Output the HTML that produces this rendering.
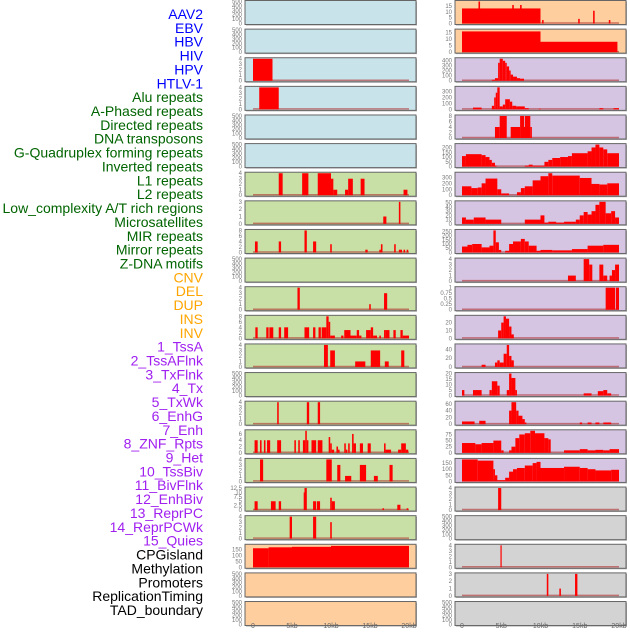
<!DOCTYPE html>
<html><head><meta charset="utf-8"><style>
body{margin:0;background:#fff;width:630px;height:630px;overflow:hidden;font-family:"Liberation Sans",sans-serif}
svg text{font-family:"Liberation Sans",sans-serif}
</style></head><body>
<svg id="chart" width="630" height="630" xmlns="http://www.w3.org/2000/svg"></svg>
<script>
const labels=["AAV2","EBV","HBV","HIV","HPV","HTLV-1","Alu repeats","A-Phased repeats","Directed repeats","DNA transposons","G-Quadruplex forming repeats","Inverted repeats","L1 repeats","L2 repeats","Low_complexity A/T rich regions","Microsatellites","MIR repeats","Mirror repeats","Z-DNA motifs","CNV","DEL","DUP","INS","INV","1_TssA","2_TssAFlnk","3_TxFlnk","4_Tx","5_TxWk","6_EnhG","7_Enh","8_ZNF_Rpts","9_Het","10_TssBiv","11_BivFlnk","12_EnhBiv","13_ReprPC","14_ReprPCWk","15_Quies","CPGisland","Methylation","Promoters","ReplicationTiming","TAD_boundary"];
const labelColors=["#0000ff","#0000ff","#0000ff","#0000ff","#0000ff","#0000ff","#006400","#006400","#006400","#006400","#006400","#006400","#006400","#006400","#006400","#006400","#006400","#006400","#006400","#ffa500","#ffa500","#ffa500","#ffa500","#ffa500","#a020f0","#a020f0","#a020f0","#a020f0","#a020f0","#a020f0","#a020f0","#a020f0","#a020f0","#a020f0","#a020f0","#a020f0","#a020f0","#a020f0","#a020f0","#000","#000","#000","#000","#000"];
const xTicks=[0,5,10,15,20];
const xTickLabels=["0","5kb","10kb","15kb","20kb"];
const E=[0,100,200,300,400,500];
// each panel: bg, ymax, yticks, segments [startKb,endKb,value]
const leftPanels=[
{bg:"#c8e3ea",ymax:500,ticks:E,segs:[]},
{bg:"#c8e3ea",ymax:500,ticks:E,segs:[]},
{bg:"#c8e3ea",ymax:4,ticks:[0,1,2,3,4],segs:[[0,2.5,4]]},
{bg:"#c8e3ea",ymax:4,ticks:[0,1,2,3,4],segs:[[0.8,3.3,4]]},
{bg:"#c8e3ea",ymax:500,ticks:E,segs:[]},
{bg:"#c8e3ea",ymax:500,ticks:E,segs:[]},
{bg:"#c8e0a5",ymax:4,ticks:[0,1,2,3,4],segs:[[3.3,3.8,4],[6.3,7.1,4],[8.3,10,4],[10,10.3,3],[10.3,10.8,1],[11.8,12.2,1],[12.2,12.8,3],[13.8,14.3,3],[19.3,19.8,1]]},
{bg:"#c8e0a5",ymax:3,ticks:[0,1,2,3],segs:[[16.7,17.1,1],[18.7,18.9,3]]},
{bg:"#c8e0a5",ymax:8,ticks:[0,2,4,6,8],segs:[[0.25,0.6,4],[3.3,3.6,4],[6.6,6.9,8],[7.7,8.1,4],[9.9,10.1,3],[14.4,14.7,1],[16.2,16.4,1],[16.4,16.6,3],[18.1,18.3,3],[18.7,19.1,1],[19.3,19.5,1],[19.7,19.9,1]]},
{bg:"#c8e0a5",ymax:500,ticks:E,segs:[]},
{bg:"#c8e0a5",ymax:4,ticks:[0,1,2,3,4],segs:[[5.7,6,4],[14.9,15.1,1],[16.8,17.2,3]]},
{bg:"#c8e0a5",ymax:8,ticks:[0,2,4,6,8],segs:[[0.3,0.6,4],[1.7,2,4],[2.1,2.6,4],[3.3,3.6,4],[4,4.5,4],[6.6,7.2,4],[7.7,8,4],[8.4,8.7,4],[8.8,9.4,4],[9.4,9.7,8],[9.7,9.9,6],[9.9,10.5,1],[11.3,11.6,1],[11.7,12.5,3],[12.5,13.3,1],[13.3,13.6,3],[13.6,13.9,1],[14.5,15.1,3],[15.1,15.4,4],[15.4,15.9,1],[16.2,16.4,1],[16.8,17,3],[17,17.5,3],[18,18.3,3],[18.9,19.2,3],[19.2,20,1]]},
{bg:"#c8e0a5",ymax:4,ticks:[0,1,2,3,4],segs:[[9.1,9.6,4],[9.9,10.5,3],[13.1,14.4,1],[15.1,16.3,3],[16.9,17.4,1],[19,19.4,3]]},
{bg:"#c8e0a5",ymax:500,ticks:E,segs:[]},
{bg:"#c8e0a5",ymax:4,ticks:[0,1,2,3,4],segs:[[3.1,3.3,4],[6.9,7.2,4],[8.3,8.6,4]]},
{bg:"#c8e0a5",ymax:7,ticks:[0,2,4,6],segs:[[0.2,0.6,4],[0.9,1.1,4],[1.4,1.6,4],[1.8,2.2,4],[3.1,3.6,4],[5.3,5.5,4],[5.8,6,4],[6.4,6.7,4],[6.7,6.9,7],[6.9,7.1,4],[7.5,8.1,4],[8.3,8.9,4],[9.7,9.9,5],[9.9,10.1,3],[10.1,10.4,1],[10.7,10.9,2],[10.9,11.1,1],[11.7,11.9,3],[11.9,12.1,1],[12.2,12.4,3],[12.7,12.9,6],[12.9,13.2,3],[13.7,14.1,3],[14.7,15.1,3],[16.8,17,3],[17,17.7,1],[18.6,19,1],[19,19.6,3],[19.6,19.9,1]]},
{bg:"#c8e0a5",ymax:4,ticks:[0,1,2,3,4],segs:[[0.9,1.3,4],[9.4,10.1,4],[10.8,11.2,3],[11.8,12.6,1],[13.7,14.5,3],[15.5,16,1],[17.5,17.9,3]]},
{bg:"#c8e0a5",ymax:12.5,ticks:[0,2.5,5,7.5,10,12.5],segs:[[0.2,0.6,5],[2.3,2.9,5],[3.3,3.6,5],[6.5,6.6,10],[6.6,6.9,12.5],[7.7,8.1,5],[8.2,8.6,5],[9.9,10.1,7],[10.1,10.5,5],[16.6,16.8,1],[18.5,18.9,3],[19.7,19.9,1]]},
{bg:"#c8e0a5",ymax:4,ticks:[0,1,2,3,4],segs:[[4.7,5,4],[7.7,8.1,4],[9.9,10.1,3]]},
{bg:"#ffce9e",ymax:185,ticks:[0,50,100,150],segs:[[0,2,160],[2,5,168],[5,10,172],[10,20,180]]},
{bg:"#ffce9e",ymax:500,ticks:E,segs:[]},
{bg:"#ffce9e",ymax:500,ticks:E,segs:[]}
];
const rightPanels=[
{bg:"#ffce9e",ymax:19,ticks:[0,5,10,15],segs:[[0,10,13],[2.1,2.3,19],[6.4,6.6,16],[7.4,7.6,16],[10.2,10.4,3],[14.8,15,4],[16.7,16.9,11],[18.7,18.9,3]]},
{bg:"#ffce9e",ymax:17,ticks:[0,5,10,15],segs:[[0,10,16],[10,19.8,8]]},
{bg:"#d5c5e2",ymax:430,ticks:[0,100,200,300,400],segs:[[3.8,4.2,20],[4.2,4.6,50],[4.6,4.8,350],[4.8,5.2,430],[5.2,5.5,390],[5.5,5.7,350],[5.7,6,280],[6,6.2,200],[6.2,6.5,120],[6.5,7,80],[7,7.4,50],[7.4,7.9,40]]},
{bg:"#d5c5e2",ymax:370,ticks:[0,100,200,300],segs:[[1.4,2.5,30],[3.8,4.1,60],[4.1,4.3,200],[4.3,4.5,280],[4.5,4.8,370],[4.8,5.2,50],[5.2,5.5,80],[5.5,6.1,170],[6.1,6.4,130],[6.4,6.9,60],[6.9,8,50],[8,8.5,20],[9.8,10,10],[17.5,18,20],[19.3,20,20]]},
{bg:"#d5c5e2",ymax:8,ticks:[0,2,4,6,8],segs:[[4.2,4.8,4],[4.8,5.7,8],[6.2,7.4,4],[7.4,7.9,8],[7.9,8,4],[8,8.7,8],[8.7,8.9,4]]},
{bg:"#d5c5e2",ymax:230,ticks:[0,50,100,150,200],segs:[[0,0.5,110],[0.5,2.5,130],[2.5,3,120],[3,3.5,100],[3.5,3.8,70],[3.8,4.2,40],[4.2,4.4,10],[8,8.5,10],[8.5,9,20],[9,10.5,10],[10.5,11,50],[11,11.5,70],[11.5,12.5,90],[12.5,13.5,100],[13.5,14,110],[14,16,140],[16,16.5,160],[16.5,17,200],[17,17.5,230],[17.5,18,200],[18,18.5,180],[18.5,20,140]]},
{bg:"#d5c5e2",ymax:370,ticks:[0,100,200,300],segs:[[0,1.2,150],[1.2,2,120],[2,2.5,130],[2.5,3,200],[3,4.5,280],[4.5,5,100],[5,6,30],[7,7.5,50],[7.5,8,120],[8,9,150],[9,10,250],[10,11,320],[11,11.5,370],[11.5,15,330],[15,16.5,290],[16.5,17.5,190],[17.5,18.5,180],[18.5,20,200]]},
{bg:"#d5c5e2",ymax:52,ticks:[0,10,20,30,40,50],segs:[[0,0.5,15],[0.5,1.5,10],[1.5,3,15],[3,5,10],[8,10,10],[10,10.5,20],[10.5,11,3],[11,12,5],[12,13,3],[13,14,5],[14,14.5,5],[14.5,15,10],[15,15.5,20],[15.5,16,28],[16,16.5,22],[16.5,17,30],[17,17.5,45],[17.5,18.3,52],[18.3,19,25],[19,19.5,30],[19.5,20,15]]},
{bg:"#d5c5e2",ymax:260,ticks:[0,50,100,150,200,250],segs:[[0,0.7,70],[0.7,1.3,90],[1.3,2.5,100],[2.5,3.5,60],[3.5,4,80],[4,4.3,260],[4.3,4.7,120],[4.7,5,30],[5.5,6,20],[6,6.5,100],[6.5,7.5,130],[7.5,8,160],[8,8.5,130],[8.5,9.5,80],[9.5,10,20],[10,11.5,30],[11.5,14,25],[14,16,40],[16,18,80],[18,20,90]]},
{bg:"#d5c5e2",ymax:4,ticks:[0,1,2,3,4],segs:[[13.5,14.5,1],[15.5,16.2,4],[16.2,16.6,3],[17.5,18,3],[18,18.5,1],[18.8,19.1,1],[19.1,19.5,2],[19.5,20,3]]},
{bg:"#d5c5e2",ymax:1,ticks:[0,0.25,0.5,0.75,1],segs:[[18.3,19.5,1],[19.6,20,1]]},
{bg:"#d5c5e2",ymax:28,ticks:[0,10,20],segs:[[4.6,5,10],[5,5.3,20],[5.3,5.6,28],[5.6,6,25],[6,6.3,15],[6.3,6.6,5]]},
{bg:"#d5c5e2",ymax:50,ticks:[0,20,40],segs:[[2.5,3,5],[4.2,4.5,10],[4.5,4.8,15],[4.8,5.3,10],[5.3,5.7,30],[5.7,6,50],[6,6.3,25],[6.3,6.6,15]]},
{bg:"#d5c5e2",ymax:20,ticks:[0,5,10,15,20],segs:[[0,0.3,5],[1.4,2.5,5],[3.5,3.8,5],[3.8,4.5,13],[4.5,4.8,9],[5.7,6,5],[6,6.3,20],[6.3,6.8,16],[6.8,7,5],[15.5,16.5,2],[17.3,18,4],[18,18.5,5],[18.5,19,2]]},
{bg:"#d5c5e2",ymax:65,ticks:[0,20,40,60],segs:[[0,1.6,8],[2.2,3,10],[6,6.3,40],[6.3,6.9,65],[6.9,7.2,40],[7.2,7.7,25],[7.7,8,15],[8,8.2,5],[15,15.3,5],[16,16.5,5],[17,17.5,5],[18,19,5]]},
{bg:"#d5c5e2",ymax:90,ticks:[0,25,50,75],segs:[[0,1.7,40],[1.7,2.5,35],[2.5,4,40],[4,5,50],[5,5.3,10],[6,6.3,10],[6.3,6.8,25],[6.8,7.3,60],[7.3,8,75],[8,8.7,80],[8.7,9.3,90],[9.3,10.5,80],[10.5,11,60],[11,11.3,55],[13,15,10],[15,16,15],[16,17,10],[17,18,12],[18,18.8,10],[18.8,20,15]]},
{bg:"#d5c5e2",ymax:180,ticks:[0,50,100,150],segs:[[0,2,180],[2,4,170],[4,4.2,100],[4.2,4.5,50],[4.5,5.5,10],[5.5,6,30],[6,6.5,80],[6.5,7,100],[7,8,110],[8,9,130],[9,9.5,150],[9.5,10,160],[10,13,110],[13,15,120],[15,16,110],[16,17,100],[17,19,90],[19,20,95]]},
{bg:"#d3d3d3",ymax:4,ticks:[0,1,2,3,4],segs:[[4.6,5,4]]},
{bg:"#d3d3d3",ymax:500,ticks:E,segs:[]},
{bg:"#d3d3d3",ymax:4,ticks:[0,1,2,3,4],segs:[[4.9,5.05,4]]},
{bg:"#d3d3d3",ymax:3,ticks:[0,1,2,3],segs:[[10.8,11,3],[12.4,12.6,1],[14.4,14.7,3]]},
{bg:"#d3d3d3",ymax:500,ticks:E,segs:[]}
];
const NS="http://www.w3.org/2000/svg";
const svg=document.getElementById('chart');
function mk(tag,attrs,parent){const e=document.createElementNS(NS,tag);for(const k in attrs)e.setAttribute(k,attrs[k]);(parent||svg).appendChild(e);return e;}
// labels
labels.forEach((t,i)=>{
 const el=mk('text',{x:203,y:14+i*13.86+5,'text-anchor':'end','font-size':'14',fill:labelColors[i]});
 el.textContent=t;
 
 
});
const cols=[{x0:245,x1:416,z:253,t:409,panels:leftPanels,name:'left'},{x0:455,x1:626,z:462,t:619,panels:rightPanels,name:'right'}];
const PH=24,PITCH=28.62;
cols.forEach(c=>{
 const xs=kb=>c.z+(c.t-c.z)*kb/20;
 c.panels.forEach((p,i)=>{
  const top=0.5+i*PITCH,bot=top+PH;
  const g=mk('g',{});
  
  
  mk('rect',{x:c.x0+1,y:top+1,width:c.x1-c.x0,height:PH,fill:'#aaa'},g);
  mk('rect',{x:c.x0,y:top,width:c.x1-c.x0,height:PH,fill:p.bg,stroke:'#666','stroke-width':1},g);
  const ys=v=>bot-1-(v/p.ymax)*(PH-2);
  p.ticks.forEach(v=>{
   const tl=mk('text',{x:c.x0-3,y:ys(v)+2,'text-anchor':'end','font-size':'6',fill:'#777'},g);
   tl.textContent=String(v);
   
   
  });
  if(p.segs.length){
   const bl=mk('line',{x1:xs(0),x2:xs(20),y1:bot-1.5,y2:bot-1.5,stroke:'#b03030','stroke-opacity':0.6,'stroke-width':1.5},g);
   
   
  }
  p.segs.forEach(s=>{
   const x=xs(s[0]),w=Math.max(1.2,xs(s[1])-x),y=ys(s[2]);
   const r=mk('rect',{x:x,y:y,width:w,height:bot-1-y,fill:'#ff0000'},g);
   
   
  });
 });
 xTicks.forEach((v,j)=>{
  const tl=mk('text',{x:xs(v),y:628,'text-anchor':'middle','font-size':'7',fill:'#666'});
  tl.textContent=xTickLabels[j];
  
  
 });
});
</script>
</body></html>
